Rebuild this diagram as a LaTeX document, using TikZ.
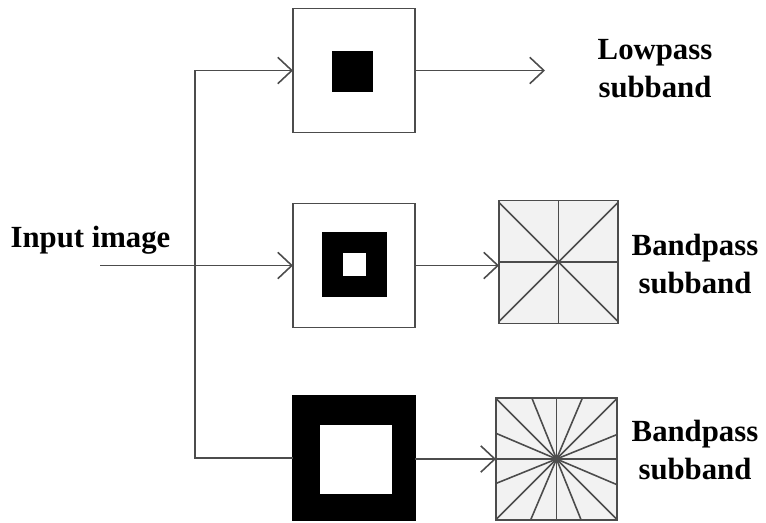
\documentclass[tikz,border=0pt]{standalone}
\usepackage{fontspec}
\setmainfont{Liberation Serif}
\usetikzlibrary{arrows.meta}
\tikzset{
  filt/.style={draw=black!70, line width=0.9pt, minimum width=2.44cm, minimum height=2.48cm, inner sep=0pt, outer sep=0pt},
  fan/.style={filt, fill=black!5},
  blk/.style={fill=black, inner sep=0pt, outer sep=0pt, minimum size=#1},
  hole/.style={fill=white, inner sep=0pt, outer sep=0pt, minimum width=#1},
  conn/.style={draw=black!70, line width=0.9pt},
  tip/.style={-{Straight Barb[length=8pt,width=15pt]}},
  lbl/.style={font=\fontsize{17.5}{21.6}\selectfont\bfseries, align=center, inner sep=0pt}
}

\begin{document}
\begin{tikzpicture}
\useasboundingbox (0,0) rectangle (15.32,-10.44);

% filters
\node[filt] (low) at (7.08,-1.41) {};
\node[blk=0.82cm] (lowc) at (7.05,-1.42) {};
\node[filt] (band) at (7.08,-5.31) {};
\node[blk=1.3cm] (bandc) at (7.09,-5.28) {};
\node[hole=0.46cm, minimum height=0.46cm] (bandh) at (7.09,-5.28) {};
\node[filt, fill=black, draw=black] (high) at (7.08,-9.16) {};
\node[hole=1.44cm, minimum height=1.38cm] (highh) at (7.12,-9.19) {};

% directional boxes
\node[fan, minimum width=2.38cm, minimum height=2.46cm] (bp1) at (11.17,-5.24) {};
\foreach \a in {0,45,...,315}
  \draw[conn] (bp1.center) -- (bp1.\a);
\node[fan, minimum width=2.42cm, minimum height=2.44cm] (bp2) at (11.13,-9.18) {};
\foreach \a in {0,22.5,...,350}
  \draw[conn] (bp2.center) -- (bp2.\a);

% labels
\node[lbl, anchor=base] (input) at (1.81,-4.94) {Input image};
\node[lbl] (lowl) at (13.1,-1.38) {Lowpass\\subband};
\node[lbl] (bp1l) at (13.9,-5.28) {Bandpass\\subband};
\node[lbl] (bp2l) at (13.9,-9.0) {Bandpass\\subband};

% connections
\coordinate (src) at (2.0,-5.31);
\coordinate (fork) at (3.9,-5.31);
\coordinate (lowout) at (10.9,-1.41);
\draw[conn, tip] (src) -- (band.west);
\draw[conn, tip] (high.west) -| (fork) |- (low.west);
\draw[conn, tip] (low.east) -- (lowout);
\draw[conn, tip] (band.east) -- (bp1.west |- band.east);
\draw[conn, tip] (high.east |- bp2.west) -- (bp2.west);
\end{tikzpicture}
\end{document}
